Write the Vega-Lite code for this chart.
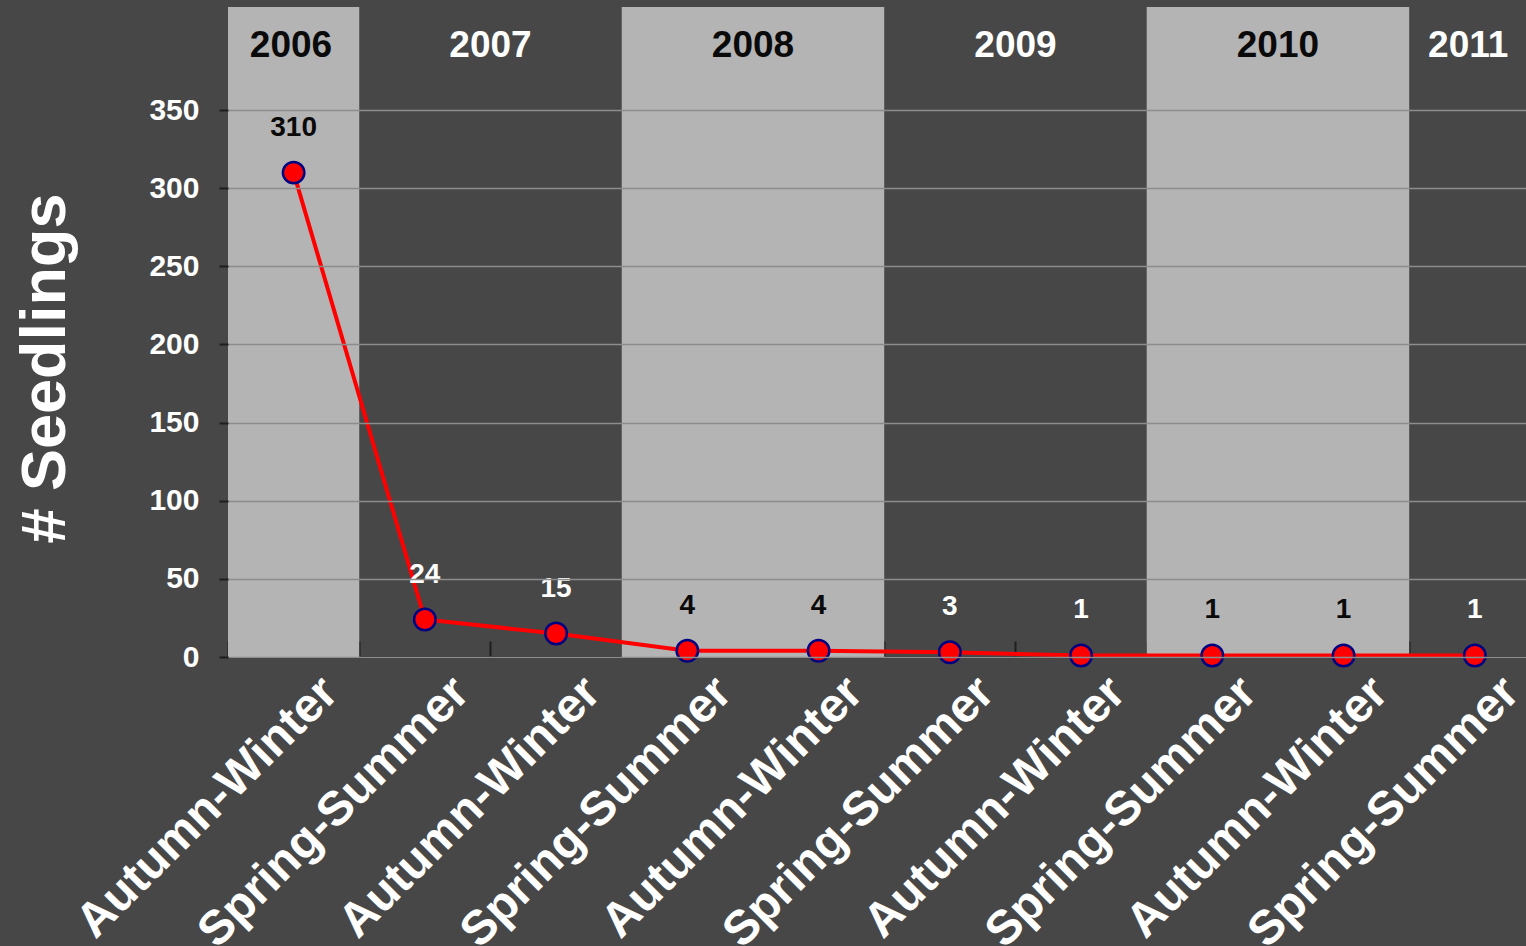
{
  "$schema": "https://vega.github.io/schema/vega-lite/v6.json",
  "autosize": "none",
  "width": 1298,
  "height": 650,
  "padding": {"left": 228, "top": 7, "right": 0, "bottom": 289},
  "background": "#474747",
  "config": {
    "view": {"stroke": null},
    "font": "Liberation Sans"
  },
  "datasets": {
    "years": [
      {"year": 2006, "start": 0.5, "end": 1.5, "mid": 0.98},
      {"year": 2007, "start": 1.5, "end": 3.5, "mid": 2.5},
      {"year": 2008, "start": 3.5, "end": 5.5, "mid": 4.5},
      {"year": 2009, "start": 5.5, "end": 7.5, "mid": 6.5},
      {"year": 2010, "start": 7.5, "end": 9.5, "mid": 8.5},
      {"year": 2011, "start": 9.5, "end": 10.5, "mid": 9.95}
    ],
    "seed": [
      {"idx": 1, "season": "Autumn-Winter", "year": 2006, "seedlings": 310},
      {"idx": 2, "season": "Spring-Summer", "year": 2007, "seedlings": 24},
      {"idx": 3, "season": "Autumn-Winter", "year": 2007, "seedlings": 15},
      {"idx": 4, "season": "Spring-Summer", "year": 2008, "seedlings": 4},
      {"idx": 5, "season": "Autumn-Winter", "year": 2008, "seedlings": 4},
      {"idx": 6, "season": "Spring-Summer", "year": 2009, "seedlings": 3},
      {"idx": 7, "season": "Autumn-Winter", "year": 2009, "seedlings": 1},
      {"idx": 8, "season": "Spring-Summer", "year": 2010, "seedlings": 1},
      {"idx": 9, "season": "Autumn-Winter", "year": 2010, "seedlings": 1},
      {"idx": 10, "season": "Spring-Summer", "year": 2011, "seedlings": 1}
    ]
  },
  "layer": [
    {
      "data": {"name": "years"},
      "mark": {"type": "rect", "clip": true},
      "encoding": {
        "x": {"field": "start", "type": "quantitative", "scale": {"domain": [0.5, 10.39], "nice": false, "zero": false},
              "axis": {"values": [0.5, 1.5, 2.5, 3.5, 4.5, 5.5, 6.5, 7.5, 8.5, 9.5], "labels": false, "title": null, "grid": false,
                       "tickSize": -16, "tickColor": "#1e1e1e", "tickWidth": 2, "domainColor": "#2a2a2a", "domainWidth": 2.5}},
        "x2": {"field": "end"},
        "color": {"condition": {"test": "datum.year % 2 == 0", "value": "#b4b4b4"}, "value": "transparent"}
      }
    },
    {
      "data": {"name": "years"},
      "mark": {"type": "text", "fontSize": 37, "fontWeight": "bold", "baseline": "middle", "align": "center"},
      "encoding": {
        "x": {"field": "mid", "type": "quantitative"},
        "y": {"datum": 391, "type": "quantitative"},
        "text": {"field": "year", "type": "nominal"},
        "color": {"condition": {"test": "datum.year % 2 == 0", "value": "#0a0a0a"}, "value": "#ffffff"}
      }
    },
    {
      "data": {"name": "seed"},
      "mark": {"type": "line", "color": "#ff0000", "strokeWidth": 4},
      "encoding": {
        "x": {"field": "idx", "type": "quantitative"},
        "y": {"field": "seedlings", "type": "quantitative",
              "scale": {"domain": [0, 416], "nice": false},
              "axis": {"values": [0, 50, 100, 150, 200, 250, 300, 350], "title": "# Seedlings",
                       "zindex": 1,
                       "domain": false,
                       "grid": true, "gridColor": "#8c8c8c", "gridWidth": 1.5,
                       "tickSize": 9, "tickColor": "#1e1e1e", "tickWidth": 2,
                       "labelColor": "#ffffff", "labelFontSize": 30, "labelFontWeight": "bold", "labelPadding": 20,
                       "titleColor": "#ffffff", "titleFontSize": 63, "titleFontWeight": "bold",
                       "titleX": -183, "titleY": 361, "titleAngle": -90, "titleAlign": "center", "titleBaseline": "middle"}}
      }
    },
    {
      "data": {"name": "seed"},
      "mark": {"type": "point", "filled": true, "fill": "#ff0000", "stroke": "#000080", "strokeWidth": 2.5, "size": 460, "shape": "circle", "opacity": 1},
      "encoding": {
        "x": {"field": "idx", "type": "quantitative"},
        "y": {"field": "seedlings", "type": "quantitative"}
      }
    },
    {
      "data": {"name": "seed"},
      "mark": {"type": "text", "fontSize": 28, "fontWeight": "bold", "baseline": "middle", "align": "center", "dy": -45},
      "encoding": {
        "x": {"field": "idx", "type": "quantitative"},
        "y": {"field": "seedlings", "type": "quantitative"},
        "text": {"field": "seedlings", "type": "quantitative"},
        "color": {"condition": {"test": "datum.year % 2 == 0", "value": "#0a0a0a"}, "value": "#ffffff"}
      }
    },
    {
      "data": {"name": "seed"},
      "mark": {"type": "text", "fontSize": 48, "fontWeight": "bold", "baseline": "top", "align": "right", "angle": 315, "dx": 6, "dy": 22, "color": "#ffffff"},
      "encoding": {
        "x": {"field": "idx", "type": "quantitative"},
        "y": {"datum": 0, "type": "quantitative"},
        "text": {"field": "season", "type": "nominal"}
      }
    }
  ]
}
